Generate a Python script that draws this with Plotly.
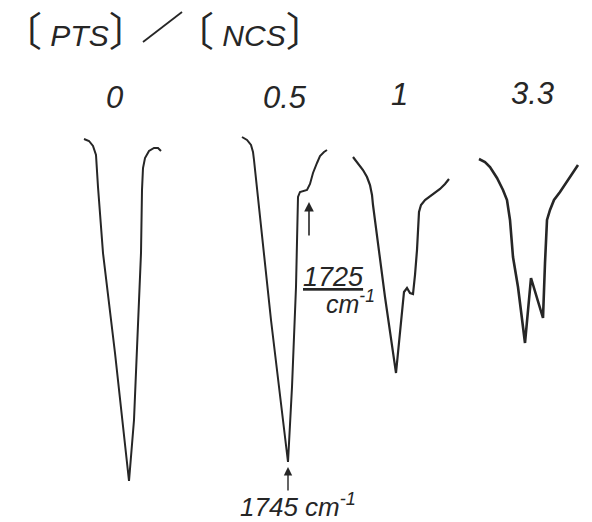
import plotly.graph_objects as go

# Hand-drawn IR carbonyl bands for several [PTS]/[NCS] ratios.
# Coordinates are in drawing units (x: horizontal position, y: downward depth).
ratio_labels = ["0", "0.5", "1", "3.3"]
label_x = [114, 285, 399, 532]
label_y = [97, 97, 94, 93]

band0_x = [84, 89, 93, 96, 98, 103, 115, 122, 129, 134, 137, 141, 142, 143, 145, 149, 154, 158, 161]
band0_y = [139, 141, 146, 155, 187, 253, 353, 420, 481, 420, 353, 253, 190, 168, 158, 151, 148, 148, 151]

band05_x = [242, 247, 251, 253, 254, 271, 288, 292, 296, 298, 300, 304, 307, 310, 313, 317, 320, 324, 327]
band05_y = [137, 140, 145, 152, 160, 320, 462, 387, 287, 197, 192, 191, 190, 184, 173, 163, 156, 152, 150]

band1_x = [353, 358, 363, 367, 370, 372, 373, 385, 396, 404, 407, 410, 413, 415, 417, 419, 421, 425, 432, 440, 445, 449]
band1_y = [157, 163, 170, 177, 185, 195, 205, 297, 373, 292, 288, 293, 294, 275, 250, 212, 205, 200, 195, 189, 184, 179]

band33_x = [479, 485, 490, 497, 503, 507, 510, 513, 518, 525, 531, 543, 545, 547, 550, 554, 560, 570, 578]
band33_y = [159, 162, 167, 178, 190, 200, 220, 257, 287, 343, 278, 318, 263, 220, 210, 200, 192, 177, 165]

title_species = ["PTS", "NCS"]
title_x = [0, 172]
peak_labels = ["<u>1725</u>", "cm<sup>-1</sup>", "1745 cm<sup>-1</sup>"]

ink = "#262626"
fig = go.Figure()
for bx, by, w in [(band0_x, band0_y, 2), (band05_x, band05_y, 2),
                  (band1_x, band1_y, 2.2), (band33_x, band33_y, 2.6)]:
    fig.add_trace(go.Scatter(x=bx, y=by, mode="lines",
                             line=dict(color=ink, width=w), hoverinfo="skip",
                             showlegend=False))

font_main = dict(family="Liberation Sans", color=ink)

ann = []
# title pieces: bracketed species names
inner = "<span style='font-family:Liberation Sans;font-size:30px;font-style:italic'> {}</span>"
for sp, x in zip(title_species, title_x):
    ann.append(dict(x=x, y=29, text="〔" + inner.format(sp) + "〕", showarrow=False,
                    xanchor="left", yanchor="middle",
                    font=dict(family="Noto Sans CJK JP", size=40, color=ink)))
for t, x, y in zip(ratio_labels, label_x, label_y):
    ann.append(dict(x=x, y=y, text=t, showarrow=False, xanchor="center", yanchor="middle",
                    font=dict(size=31, style="italic", **font_main)))
ann.append(dict(x=333, y=277, text=peak_labels[0], showarrow=False, xanchor="center", yanchor="middle",
                font=dict(size=27, style="italic", **font_main)))
ann.append(dict(x=350, y=302, text=peak_labels[1], showarrow=False, xanchor="center", yanchor="middle",
                font=dict(size=25, style="italic", **font_main)))
ann.append(dict(x=298, y=505, text=peak_labels[2], showarrow=False, xanchor="center", yanchor="middle",
                font=dict(size=26, style="italic", **font_main)))
# arrows
ann.append(dict(x=309, y=202, ax=309, ay=237, axref="x", ayref="y", xref="x", yref="y",
                text="", showarrow=True, arrowhead=2, arrowsize=1.2, arrowwidth=1.6, arrowcolor=ink))
ann.append(dict(x=288, y=467, ax=288, ay=492, axref="x", ayref="y", xref="x", yref="y",
                text="", showarrow=True, arrowhead=2, arrowsize=1.2, arrowwidth=1.4, arrowcolor=ink))

fig.update_layout(
    width=592, height=522, autosize=False,
    margin=dict(l=0, r=0, t=0, b=0),
    paper_bgcolor="white", plot_bgcolor="white",
    xaxis=dict(range=[0, 592], visible=False, fixedrange=True),
    yaxis=dict(range=[522, 0], visible=False, fixedrange=True),
    annotations=ann,
    shapes=[dict(type="line", xref="x", yref="y", x0=143, y0=42, x1=182, y1=12,
                 line=dict(color=ink, width=1.8))],
)
fig.write_html("out.html", config={"displayModeBar": False},
               post_script="document.body.style.margin='0px';document.body.style.overflow='hidden';")
